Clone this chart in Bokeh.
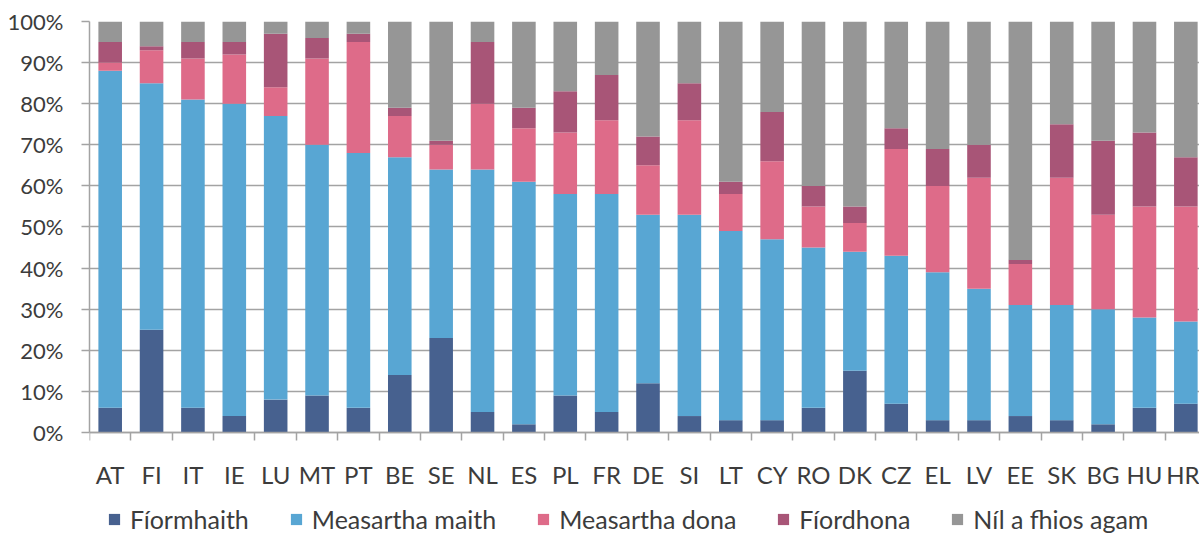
from bokeh.plotting import figure
from bokeh.models import ColumnDataSource, Range1d, FixedTicker, Legend, LegendItem
from bokeh.embed import file_html
from bokeh.resources import INLINE

countries = ["AT", "FI", "IT", "IE", "LU", "MT", "PT", "BE", "SE", "NL", "ES", "PL", "FR", "DE",
             "SI", "LT", "CY", "RO", "DK", "CZ", "EL", "LV", "EE", "SK", "BG", "HU", "HR"]
fior_mhaith = [6, 25, 6, 4, 8, 9, 6, 14, 23, 5, 2, 9, 5, 12, 4, 3, 3, 6, 15, 7, 3, 3, 4, 3, 2, 6, 7]
meas_maith = [82, 60, 75, 76, 69, 61, 62, 53, 41, 59, 59, 49, 53, 41, 49, 46, 44, 39, 29, 36, 36, 32, 27, 28, 28, 22, 20]
meas_dona = [2, 8, 10, 12, 7, 21, 27, 10, 6, 16, 13, 15, 18, 12, 23, 9, 19, 10, 7, 26, 21, 27, 10, 31, 23, 27, 28]
fiordhona = [5, 1, 4, 3, 13, 5, 2, 2, 1, 15, 5, 10, 11, 7, 9, 3, 12, 5, 4, 5, 9, 8, 1, 13, 18, 18, 12]
nil_fhios = [5, 6, 5, 5, 3, 4, 3, 21, 29, 5, 21, 17, 13, 28, 15, 39, 22, 40, 45, 26, 31, 30, 58, 25, 29, 27, 33]

series_names = ["Fíormhaith", "Measartha maith", "Measartha dona", "Fíordhona", "Níl a fhios agam"]
colors = ["#47618F", "#58A6D3", "#DE6B89", "#A85577", "#969696"]
y_ticks = [0, 10, 20, 30, 40, 50, 60, 70, 80, 90, 100]

FONT = "Lato"
TXT = "#3c3c3c"
GRID = "#a3a3a3"

x_pos = list(range(len(countries)))
source = ColumnDataSource(dict(x=x_pos, s0=fior_mhaith, s1=meas_maith, s2=meas_dona,
                               s3=fiordhona, s4=nil_fhios))

# frame spans from 100% down to the bottom of the figure; the x axis sits at y = 0
p = figure(width=1199, height=534, output_backend="svg", toolbar_location=None,
           x_range=Range1d(-0.5, 26.33), y_range=Range1d(-24.82, 100),
           min_border_left=89, min_border_right=0, min_border_top=21, min_border_bottom=0)
p.outline_line_color = None
p.background_fill_color = "white"
p.border_fill_color = "white"

renderers = p.vbar_stack(["s0", "s1", "s2", "s3", "s4"], x="x", width=0.57, color=colors,
                         line_color=None, source=source)

# axes
xa = p.xaxis[0]
xa.fixed_location = 0
xa.ticker = FixedTicker(ticks=x_pos, minor_ticks=[i + 0.5 for i in range(-1, len(countries))])
xa.major_label_overrides = {i: c for i, c in enumerate(countries)}
xa.major_tick_out = 0
xa.major_tick_in = 0
xa.minor_tick_out = 8
xa.minor_tick_in = 0
xa.minor_tick_line_color = GRID
xa.minor_tick_line_width = 1.5
xa.axis_line_color = GRID
xa.axis_line_width = 1.5
xa.major_label_standoff = 20
xa.major_label_text_font = FONT
xa.major_label_text_font_size = "24px"
xa.major_label_text_color = TXT

ya = p.yaxis[0]
ya.bounds = (0, 100)
ya.ticker = FixedTicker(ticks=y_ticks, minor_ticks=[])
ya.major_label_overrides = {v: f"{v}%" for v in y_ticks}
ya.major_tick_out = 8
ya.major_tick_in = 0
ya.major_tick_line_color = GRID
ya.major_tick_line_width = 1.5
ya.minor_tick_out = 0
ya.minor_tick_in = 0
ya.axis_line_color = GRID
ya.axis_line_width = 1.5
ya.major_label_standoff = 18
ya.major_label_text_font = FONT
ya.major_label_text_font_size = "22px"
ya.major_label_text_color = TXT

p.xgrid.visible = False
p.ygrid.grid_line_color = GRID
p.ygrid.grid_line_width = 1.5

legend = Legend(items=[LegendItem(label=n, renderers=[r]) for n, r in zip(series_names, renderers)],
                orientation="horizontal", location=(18, 0),
                glyph_width=14, glyph_height=14, label_standoff=9, spacing=40,
                padding=0, margin=0, border_line_alpha=0, background_fill_alpha=0,
                label_text_font=FONT, label_text_font_size="25px", label_text_color=TXT)
p.add_layout(legend, "center")

open("out.html", "w").write(file_html(p, INLINE))
